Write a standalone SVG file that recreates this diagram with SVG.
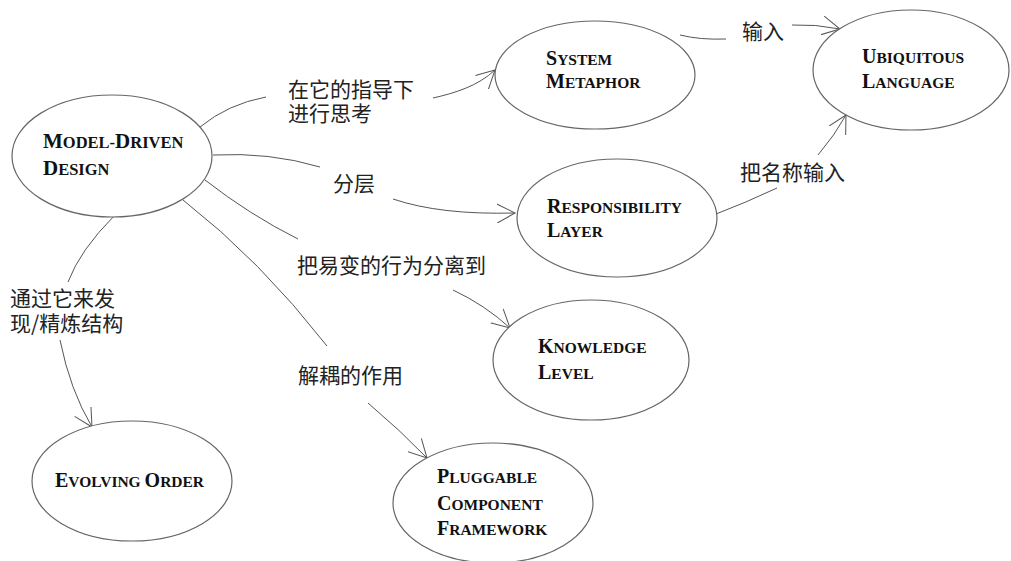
<svg xmlns="http://www.w3.org/2000/svg" width="1011" height="561" viewBox="0 0 1011 561">
<style>
.node ellipse{fill:#fff;stroke:#666;stroke-width:1.2}
.nt{font-family:"Liberation Serif","Times New Roman",serif;font-weight:bold;fill:#111}
.b{font-size:20px}.s{font-size:15.5px}
.B{font-size:21px}.S{font-size:16.5px}
.lbl{font-family:"Noto Sans CJK SC","Noto Sans CJK JP",sans-serif;font-size:21px;fill:#222}
.edges path{fill:none;stroke:#555;stroke-width:1}
.arr{marker-end:url(#ah)}
</style>
<defs>
<marker id="ah" markerUnits="userSpaceOnUse" viewBox="0 0 20 20" refX="18" refY="10" markerWidth="20" markerHeight="20" orient="auto">
<path d="M0,0.5 L18,10 L0,19.5" fill="none" stroke="#555" stroke-width="1"/>
</marker>
</defs>
<rect width="1011" height="561" fill="#fff"/>
<g class="edges" id="connectors">
<path d="M200,127 Q228,104 266,97"/>
<path class="arr" d="M433,98 C455,93 478,86 495,70"/>
<path d="M213,155 Q270,152 320,167"/>
<path class="arr" d="M393,199 Q440,215 515,213"/>
<path d="M205,180 Q250,215 298,239"/>
<path class="arr" d="M453,290 Q485,305 510,328"/>
<path d="M183,200 Q260,260 327,346"/>
<path class="arr" d="M368,403 Q400,430 427,458"/>
<path d="M115,215 Q80,250 68,282"/>
<path class="arr" d="M60,340 Q70,390 92,427"/>
<path d="M680,35 Q700,40 726,39"/>
<path class="arr" d="M792,25 Q815,24 840,29"/>
<path d="M716,214 Q745,203 777,188"/>
<path class="arr" d="M818,155 Q835,135 846,115"/>
</g>
<g id="labels">
<text class="lbl" x="288" y="97">在它的指导下<tspan x="288" dy="24">进行思考</tspan></text>
<text class="lbl" x="742" y="39">输入</text>
<text class="lbl" x="740" y="180">把名称输入</text>
<text class="lbl" x="333" y="191">分层</text>
<text class="lbl" x="297" y="273">把易变的行为分离到</text>
<text class="lbl" x="10" y="306">通过它来发<tspan x="10" dy="25">现/精炼结构</tspan></text>
<text class="lbl" x="298" y="383">解耦的作用</text>
</g>
<g class="node" id="model-driven-design">
<ellipse cx="112" cy="156" rx="100" ry="61"/>
<text class="nt" x="43" y="148"><tspan class="B">M</tspan><tspan class="S">ODEL-</tspan><tspan class="B">D</tspan><tspan class="S">RIVEN</tspan></text>
<text class="nt" x="43" y="175"><tspan class="B">D</tspan><tspan class="S">ESIGN</tspan></text>
</g>
<g class="node" id="system-metaphor">
<ellipse cx="595" cy="75" rx="100" ry="54"/>
<text class="nt" x="546" y="65"><tspan class="b">S</tspan><tspan class="s">YSTEM</tspan></text>
<text class="nt" x="546" y="88"><tspan class="b">M</tspan><tspan class="s">ETAPHOR</tspan></text>
</g>
<g class="node" id="ubiquitous-language">
<ellipse cx="911" cy="70" rx="98" ry="60"/>
<text class="nt" x="862" y="63"><tspan class="b">U</tspan><tspan class="s">BIQUITOUS</tspan></text>
<text class="nt" x="862" y="88"><tspan class="b">L</tspan><tspan class="s">ANGUAGE</tspan></text>
</g>
<g class="node" id="responsibility-layer">
<ellipse cx="617" cy="218" rx="100" ry="59"/>
<text class="nt" x="547" y="213"><tspan class="b">R</tspan><tspan class="s">ESPONSIBILITY</tspan></text>
<text class="nt" x="547" y="237"><tspan class="b">L</tspan><tspan class="s">AYER</tspan></text>
</g>
<g class="node" id="knowledge-level">
<ellipse cx="591" cy="360" rx="98" ry="60"/>
<text class="nt" x="538" y="353"><tspan class="b">K</tspan><tspan class="s">NOWLEDGE</tspan></text>
<text class="nt" x="538" y="379"><tspan class="b">L</tspan><tspan class="s">EVEL</tspan></text>
</g>
<g class="node" id="pluggable-component-framework">
<ellipse cx="493" cy="503" rx="100" ry="60"/>
<text class="nt" x="437" y="483"><tspan class="b">P</tspan><tspan class="s">LUGGABLE</tspan></text>
<text class="nt" x="437" y="510"><tspan class="b">C</tspan><tspan class="s">OMPONENT</tspan></text>
<text class="nt" x="437" y="535"><tspan class="b">F</tspan><tspan class="s">RAMEWORK</tspan></text>
</g>
<g class="node" id="evolving-order">
<ellipse cx="132" cy="481" rx="100" ry="60"/>
<text class="nt" x="55" y="487"><tspan class="b">E</tspan><tspan class="s">VOLVING </tspan><tspan class="b">O</tspan><tspan class="s">RDER</tspan></text>
</g>
</svg>
